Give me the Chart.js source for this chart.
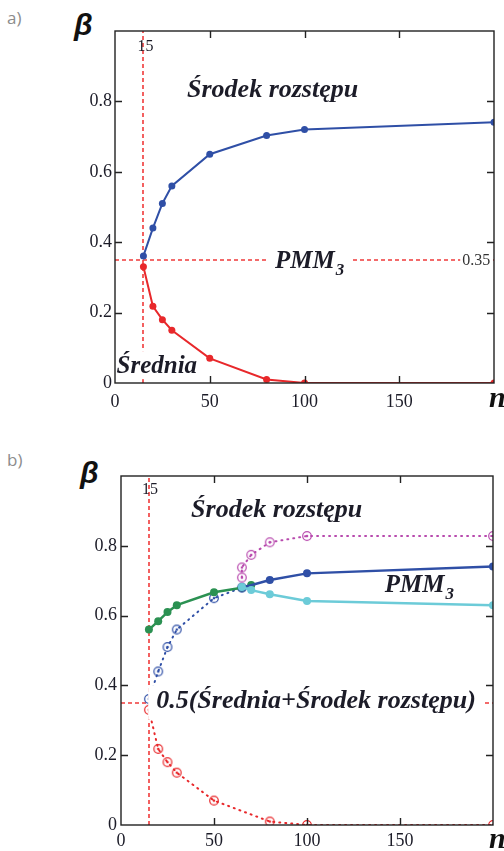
<!DOCTYPE html>
<html>
<head>
<meta charset="utf-8">
<script src="https://cdn.jsdelivr.net/npm/chart.js@4.4.1/dist/chart.umd.min.js"></script>
<style>
  html, body { margin: 0; padding: 0; background: #fff; }
  #page { position: relative; width: 504px; height: 851px; overflow: hidden; }
  .panel { position: absolute; left: 0; }
  .tag  { position: absolute; font: 17px "Open Sans", sans-serif; color: #8c8c8c; line-height: 1; }
  .beta { position: absolute; font: bold italic 30px "Liberation Sans", sans-serif; color: #111; line-height: 1; }
  .en   { position: absolute; font: bold italic 30px "Liberation Serif", serif; color: #111; line-height: 1; }
</style>
</head>
<body>
<div id="page">
  <div class="tag" style="left:7px;top:9px">a)</div>
  <div class="beta" style="left:74px;top:10px">β</div>
  <div class="panel" style="top:0"><canvas id="chart-a" width="504" height="420"></canvas></div>
  <div class="en" style="left:489px;top:382px">n</div>

  <div class="tag" style="left:7px;top:451px">b)</div>
  <div class="beta" style="left:80px;top:458px">β</div>
  <div class="panel" style="top:420px"><canvas id="chart-b" width="504" height="431"></canvas></div>
  <div class="en" style="left:489px;top:823px">n</div>
</div>

<script>
// ── Data ─────────────────────────────────────────────────────────────────
const xTicks = [50, 100, 150];
const yTicks = [0.2, 0.4, 0.6, 0.8];
const nCut = 15;        // vertical marker
const betaCut = 0.35;   // horizontal marker

// panel a)
const nA        = [15, 20, 25, 30, 50, 80, 100, 200];
const midRangeA = [0.361, 0.44, 0.51, 0.56, 0.65, 0.703, 0.72, 0.741];
const meanA     = [0.33, 0.218, 0.18, 0.15, 0.07, 0.01, 0.0, 0.0];

// panel b)
const nMidDot   = [15, 20, 25, 30, 50, 65];
const midDot    = [0.361, 0.44, 0.51, 0.56, 0.65, 0.68];
const nMidLine  = [65, 80, 100, 200];
const midLine   = [0.68, 0.702, 0.721, 0.741];
const nPmm      = [15, 20, 25, 30, 50, 65, 70];
const pmmLow    = [0.56, 0.584, 0.61, 0.63, 0.667, 0.68, 0.688];
const nHalf     = [65, 70, 80, 100, 200];
const halfSum   = [0.682, 0.673, 0.661, 0.642, 0.63];
const nUpper    = [65, 65, 70, 80, 100, 200];
const upper     = [0.709, 0.738, 0.774, 0.81, 0.828, 0.828];

const COLORS = {
  blue:    '#2f4fa6',
  red:     '#e8282b',
  green:   '#2b9152',
  cyan:    '#6ccbd8',
  magenta: '#b84aae',
  marker:  '#f03a3a',
  ink:     '#1c1c28',
};

Chart.defaults.font.family = '"Liberation Serif", serif';
Chart.defaults.font.size = 18;
Chart.defaults.color = COLORS.ink;

// ── Helpers ──────────────────────────────────────────────────────────────
const pts = (xs, ys) => xs.map((x, i) => ({ x, y: ys[i] }));

function ringDot(color) {
  const c = document.createElement('canvas');
  c.width = c.height = 12;
  const g = c.getContext('2d');
  g.strokeStyle = color; g.lineWidth = 1.2;
  g.beginPath(); g.arc(6, 6, 4.3, 0, Math.PI * 2); g.stroke();
  g.fillStyle = color;
  g.beginPath(); g.arc(6, 6, 1.3, 0, Math.PI * 2); g.fill();
  return c;
}

function solid(data, color, width = 2, r = 3.5) {
  return { data, borderColor: color, backgroundColor: color, borderWidth: width,
           pointRadius: r, pointBackgroundColor: color, pointBorderWidth: 0, tension: 0 };
}

function dotted(data, color) {
  return { data, borderColor: color, borderWidth: 2, borderDash: [1, 5], borderCapStyle: 'round',
           pointStyle: ringDot(color), pointRadius: 5, tension: 0 };
}

// dashed red guide lines at n = nCut and beta = betaCut
const guides = {
  id: 'guides',
  beforeDatasetsDraw(chart) {
    const { ctx, chartArea: a, scales: { x, y } } = chart;
    const px = Math.round(x.getPixelForValue(nCut));
    const py = Math.round(y.getPixelForValue(betaCut));
    ctx.save();
    ctx.strokeStyle = COLORS.marker;
    ctx.lineWidth = 1.6;
    ctx.setLineDash([4, 3]);
    ctx.beginPath();
    ctx.moveTo(px, a.bottom); ctx.lineTo(px, a.top);
    ctx.moveTo(a.left, py);   ctx.lineTo(a.right, py);
    ctx.stroke();
    ctx.restore();
  },
};

const frame = {
  id: 'frame',
  afterDraw(chart) {
    const { ctx, chartArea: a, scales: { x, y } } = chart;
    ctx.save();
    ctx.strokeStyle = '#222';
    ctx.lineWidth = 1.4;
    ctx.strokeRect(a.left, a.top, a.right - a.left, a.bottom - a.top);
    ctx.beginPath();
    for (const v of xTicks) {
      const px = Math.round(x.getPixelForValue(v)) + 0.5;
      ctx.moveTo(px, a.bottom); ctx.lineTo(px, a.bottom - 7);
      ctx.moveTo(px, a.top);    ctx.lineTo(px, a.top + 7);
    }
    for (const v of yTicks) {
      const py = Math.round(y.getPixelForValue(v)) + 0.5;
      ctx.moveTo(a.left, py);  ctx.lineTo(a.left + 7, py);
      ctx.moveTo(a.right, py); ctx.lineTo(a.right - 7, py);
    }
    ctx.stroke();
    ctx.restore();
  },
};

function notes(list) {
  return {
    id: 'notes',
    afterDatasetsDraw(chart) {
      const { ctx, scales: { x, y } } = chart;
      ctx.save();
      ctx.textBaseline = 'alphabetic';
      ctx.textAlign = 'left';
      for (const n of list) {
        ctx.font = n.font;
        const m = ctx.measureText(n.text);
        let w = m.width, subW = 0;
        if (n.sub) { ctx.font = n.subFont; subW = ctx.measureText(n.sub).width + 1; ctx.font = n.font; }
        let px = x.getPixelForValue(n.x);
        const py = y.getPixelForValue(n.y);
        if (n.align === 'right') px -= w + subW;
        if (n.bg) {
          const pad = n.pad ?? 4;
          ctx.fillStyle = '#fff';
          ctx.fillRect(px - pad, py - m.actualBoundingBoxAscent, w + subW + pad * 2,
                       m.actualBoundingBoxAscent + m.actualBoundingBoxDescent + 6);
        }
        ctx.fillStyle = n.color || COLORS.ink;
        ctx.fillText(n.text, px, py);
        if (n.sub) { ctx.font = n.subFont; ctx.fillText(n.sub, px + w + 1, py + 7); }
      }
      ctx.restore();
    },
  };
}

const LABEL = 'bold italic 26px "Liberation Serif", serif';
const PMM   = 'bold italic 25px "Liberation Serif", serif';
const SUB   = 'bold italic 17px "Liberation Serif", serif';
const SMALL = '16px "Liberation Serif", serif';

function baseOptions(pad, yWidth, xHeight, xPad, yPad) {
  return {
    responsive: false,
    animation: false,
    layout: { padding: pad },
    plugins: { legend: { display: false }, tooltip: { enabled: false } },
    scales: {
      x: {
        type: 'linear', min: 0, max: 200,
        grid: { display: false, drawTicks: false }, border: { display: false },
        ticks: { stepSize: 50, autoSkip: false, padding: xPad, maxRotation: 0,
                 callback: v => (v === 200 ? '' : v) },
        afterFit: s => { s.height = xHeight; },
      },
      y: {
        min: 0, max: 1,
        grid: { display: false, drawTicks: false }, border: { display: false },
        ticks: { stepSize: 0.2, autoSkip: false, padding: yPad,
                 callback: v => (v >= 1 ? '' : (v === 0 ? '0' : v.toFixed(1))) },
        afterFit: s => { s.width = yWidth; },
      },
    },
  };
}

// ── Panel a) ─────────────────────────────────────────────────────────────
new Chart(document.getElementById('chart-a'), {
  type: 'line',
  data: {
    datasets: [
      solid(pts(nA, midRangeA), COLORS.blue),
      solid(pts(nA, meanA), COLORS.red),
    ],
  },
  options: baseOptions({ top: 31, right: 10, left: 0, bottom: 0 }, 115, 37, 8, 3),
  plugins: [guides, frame, notes([
    { text: '15', x: 11.9, y: 0.943, font: SMALL },
    { text: 'Środek rozstępu', x: 38, y: 0.812, font: LABEL },
    { text: 'PMM', sub: '3', x: 84.4, y: 0.327, font: PMM, subFont: SUB, bg: true, pad: 8 },
    { text: '0.35', x: 198, y: 0.335, font: SMALL, color: '#333', align: 'right', bg: true, pad: 2 },
    { text: 'Średnia', x: 0.8, y: 0.028, font: PMM, bg: true, pad: 0 },
  ])],
});

// ── Panel b) ─────────────────────────────────────────────────────────────
new Chart(document.getElementById('chart-b'), {
  type: 'line',
  data: {
    datasets: [
      solid(pts(nHalf, halfSum), COLORS.cyan, 2.5, 4),
      solid(pts(nMidLine, midLine), COLORS.blue, 2.5, 4),
      solid(pts(nPmm, pmmLow), COLORS.green, 2.5, 4),
      dotted(pts(nUpper, upper), COLORS.magenta),
      dotted(pts(nMidDot, midDot), COLORS.blue),
      dotted(pts(nA, meanA), COLORS.red),
    ],
  },
  options: baseOptions({ top: 56, right: 11, left: 0, bottom: 0 }, 121, 26, 5, 4),
  plugins: [guides, frame, notes([
    { text: '15', x: 11.3, y: 0.948, font: SMALL },
    { text: 'Środek rozstępu', x: 37.7, y: 0.882, font: LABEL },
    { text: 'PMM', sub: '3', x: 141.8, y: 0.667, font: PMM, subFont: SUB },
    { text: '0.5(Średnia+Środek rozstępu)', x: 18.9, y: 0.336, font: LABEL, bg: true, pad: 8 },
  ])],
});
</script>
</body>
</html>
